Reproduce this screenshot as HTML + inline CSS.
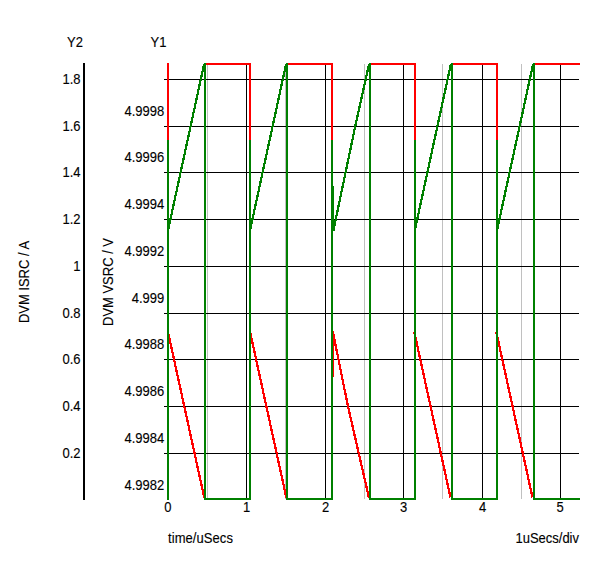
<!DOCTYPE html>
<html><head><meta charset="utf-8"><title>DVM plot</title>
<style>
html,body{margin:0;padding:0;background:#fff;}
body{width:600px;height:563px;overflow:hidden;}
svg{display:block;}
text{font-family:"Liberation Sans",Arial,sans-serif;font-size:13px;fill:#000;stroke:#000;stroke-width:0.12px;}
</style></head><body>
<svg width="600" height="563" viewBox="0 0 600 563">
<rect x="0" y="0" width="600" height="563" fill="#fff"/>
<g shape-rendering="crispEdges">
<rect x="207" y="64" width="1" height="435" fill="#c0c0c0"/>
<rect x="285" y="64" width="1" height="435" fill="#c0c0c0"/>
<rect x="364" y="64" width="1" height="435" fill="#c0c0c0"/>
<rect x="442" y="64" width="1" height="435" fill="#c0c0c0"/>
<rect x="521" y="64" width="1" height="435" fill="#c0c0c0"/>
<rect x="246" y="64" width="1" height="435" fill="#000"/>
<rect x="325" y="64" width="1" height="435" fill="#000"/>
<rect x="403" y="64" width="1" height="435" fill="#000"/>
<rect x="482" y="64" width="1" height="435" fill="#000"/>
<rect x="560" y="64" width="1" height="435" fill="#000"/>
<rect x="164" y="79" width="415" height="1" fill="#000"/>
<rect x="164" y="126" width="415" height="1" fill="#000"/>
<rect x="164" y="172" width="415" height="1" fill="#000"/>
<rect x="164" y="219" width="415" height="1" fill="#000"/>
<rect x="164" y="266" width="415" height="1" fill="#000"/>
<rect x="164" y="313" width="415" height="1" fill="#000"/>
<rect x="164" y="359" width="415" height="1" fill="#000"/>
<rect x="164" y="406" width="415" height="1" fill="#000"/>
<rect x="164" y="453" width="415" height="1" fill="#000"/>
<rect x="83" y="63" width="2" height="437" fill="#000"/>
<rect x="167" y="63" width="2" height="272" fill="#f00"/>
<line x1="168.0" y1="332" x2="204.2" y2="497.5" stroke="#f00" stroke-width="2.25"/>
<rect x="204" y="63" width="47" height="2" fill="#f00"/>
<rect x="249" y="63" width="2" height="272" fill="#f00"/>
<line x1="250.1" y1="332" x2="286.3" y2="497.5" stroke="#f00" stroke-width="2.25"/>
<rect x="286" y="63" width="47" height="2" fill="#f00"/>
<rect x="331" y="63" width="2" height="272" fill="#f00"/>
<polyline points="332.7,331 347.9,406 368.9,497.5" fill="none" stroke="#f00" stroke-width="2.25"/>
<rect x="369" y="63" width="47" height="2" fill="#f00"/>
<rect x="414" y="63" width="2" height="272" fill="#f00"/>
<line x1="414.3" y1="332" x2="450.5" y2="497.5" stroke="#f00" stroke-width="2.25"/>
<rect x="451" y="63" width="47" height="2" fill="#f00"/>
<rect x="496" y="63" width="2" height="272" fill="#f00"/>
<line x1="496.3" y1="332" x2="532.5" y2="497.5" stroke="#f00" stroke-width="2.25"/>
<rect x="533" y="63" width="47" height="2" fill="#f00"/>
<rect x="333" y="331" width="1" height="46" fill="#f00"/>
<rect x="167" y="140" width="2" height="360" fill="#008000"/>
<line x1="168.1" y1="230" x2="204.1" y2="64" stroke="#008000" stroke-width="2.25"/>
<rect x="204" y="63" width="2" height="437" fill="#008000"/>
<rect x="204" y="498" width="47" height="2" fill="#008000"/>
<rect x="249" y="140" width="2" height="360" fill="#008000"/>
<line x1="250.1" y1="230" x2="286.1" y2="64" stroke="#008000" stroke-width="2.25"/>
<rect x="286" y="63" width="2" height="437" fill="#008000"/>
<rect x="286" y="498" width="47" height="2" fill="#008000"/>
<rect x="331" y="140" width="2" height="360" fill="#008000"/>
<polyline points="333.3,231 355.3,126 369.1,64" fill="none" stroke="#008000" stroke-width="2.25"/>
<rect x="369" y="63" width="2" height="437" fill="#008000"/>
<rect x="369" y="498" width="47" height="2" fill="#008000"/>
<rect x="414" y="140" width="2" height="360" fill="#008000"/>
<line x1="414.9" y1="230" x2="450.9" y2="64" stroke="#008000" stroke-width="2.25"/>
<rect x="451" y="63" width="2" height="437" fill="#008000"/>
<rect x="451" y="498" width="47" height="2" fill="#008000"/>
<rect x="496" y="140" width="2" height="360" fill="#008000"/>
<line x1="497.1" y1="230" x2="533.1" y2="64" stroke="#008000" stroke-width="2.25"/>
<rect x="533" y="63" width="2" height="437" fill="#008000"/>
<rect x="533" y="498" width="47" height="2" fill="#008000"/>
<rect x="333" y="186" width="1" height="45" fill="#008000"/>
</g>
<text transform="translate(67,47) scale(1,1.09)">Y2</text>
<text transform="translate(150.5,47) scale(1,1.09)">Y1</text>
<text transform="translate(80.5,83.7) scale(1,1.09)" text-anchor="end">1.8</text>
<text transform="translate(80.5,130.7) scale(1,1.09)" text-anchor="end">1.6</text>
<text transform="translate(80.5,176.7) scale(1,1.09)" text-anchor="end">1.4</text>
<text transform="translate(80.5,223.7) scale(1,1.09)" text-anchor="end">1.2</text>
<text transform="translate(80.5,270.7) scale(1,1.09)" text-anchor="end">1</text>
<text transform="translate(80.5,317.7) scale(1,1.09)" text-anchor="end">0.8</text>
<text transform="translate(80.5,363.7) scale(1,1.09)" text-anchor="end">0.6</text>
<text transform="translate(80.5,410.7) scale(1,1.09)" text-anchor="end">0.4</text>
<text transform="translate(80.5,457.7) scale(1,1.09)" text-anchor="end">0.2</text>
<text transform="translate(164.2,115.6) scale(1,1.09)" text-anchor="end">4.9998</text>
<text transform="translate(164.2,162.3) scale(1,1.09)" text-anchor="end">4.9996</text>
<text transform="translate(164.2,209.1) scale(1,1.09)" text-anchor="end">4.9994</text>
<text transform="translate(164.2,255.8) scale(1,1.09)" text-anchor="end">4.9992</text>
<text transform="translate(164.2,302.6) scale(1,1.09)" text-anchor="end">4.999</text>
<text transform="translate(164.2,349.3) scale(1,1.09)" text-anchor="end">4.9988</text>
<text transform="translate(164.2,396.0) scale(1,1.09)" text-anchor="end">4.9986</text>
<text transform="translate(164.2,442.8) scale(1,1.09)" text-anchor="end">4.9984</text>
<text transform="translate(164.2,489.5) scale(1,1.09)" text-anchor="end">4.9982</text>
<text transform="translate(167.8,511.6) scale(1,1.09)" text-anchor="middle">0</text>
<text transform="translate(246.5,511.6) scale(1,1.09)" text-anchor="middle">1</text>
<text transform="translate(325.5,511.6) scale(1,1.09)" text-anchor="middle">2</text>
<text transform="translate(403.5,511.6) scale(1,1.09)" text-anchor="middle">3</text>
<text transform="translate(482.5,511.6) scale(1,1.09)" text-anchor="middle">4</text>
<text transform="translate(560,511.6) scale(1,1.09)" text-anchor="middle">5</text>
<text transform="translate(168,543) scale(1,1.09)" letter-spacing="0.08">time/uSecs</text>
<text transform="translate(579,543) scale(1,1.09)" text-anchor="end">1uSecs/div</text>
<text transform="translate(29.3,282) rotate(-90) scale(1,1.09)" text-anchor="middle">DVM ISRC / A</text>
<text transform="translate(113.2,282) rotate(-90) scale(1,1.09)" text-anchor="middle">DVM VSRC / V</text>
</svg>
</body></html>
